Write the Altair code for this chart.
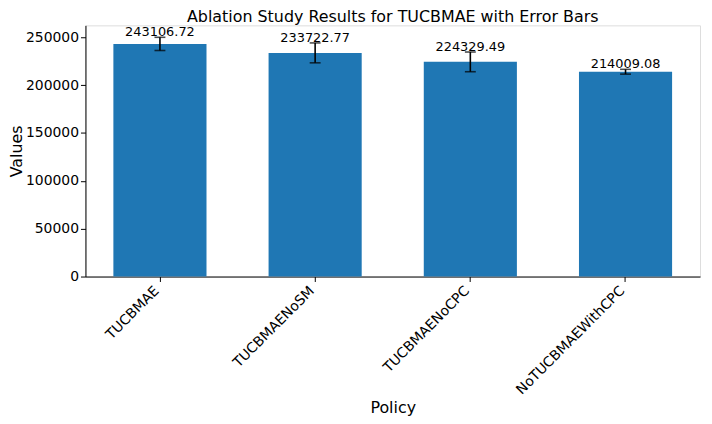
import altair as alt
import pandas as pd

policies = ["TUCBMAE", "TUCBMAENoSM", "TUCBMAENoCPC", "NoTUCBMAEWithCPC"]
values = [243106.72, 233722.77, 224329.49, 214009.08]
errors = [6900, 10400, 10300, 2500]
labels = ["243106.72", "233722.77", "224329.49", "214009.08"]
chart_title = "Ablation Study Results for TUCBMAE with Error Bars"

W, H = 619, 253

df = pd.DataFrame({
    "Policy": policies,
    "Value": values,
    "Err": errors,
    "Label": labels,
})
df["Low"] = df["Value"] - df["Err"]
df["High"] = df["Value"] + df["Err"]

FONT = "DejaVu Sans"

x = alt.X(
    "Policy:N",
    sort=policies,
    scale=alt.Scale(paddingInner=0.4, paddingOuter=0.18),
    axis=alt.Axis(
        title="Policy",
        labelAngle=-45,
        labelAlign="right",
        labelBaseline="top",
        labelFontSize=14,
        labelFont=FONT,
        labelColor="black",
        labelOffset=-8,
        labelPadding=2,
        titleFontSize=16,
        titleFont=FONT,
        titleFontWeight="normal",
        titleColor="black",
        titlePadding=3,
        tickColor="black",
        tickSize=5,
        domainColor="black",
    ),
)
yscale = alt.Scale(domain=[0, 262500], nice=False)
yaxis = alt.Axis(
    title="Values",
    values=[0, 50000, 100000, 150000, 200000, 250000],
    format="d",
    grid=False,
    labelFontSize=14,
    labelFont=FONT,
    labelColor="black",
    titleFontSize=16,
    titleFont=FONT,
    titleFontWeight="normal",
    titleColor="black",
    titlePadding=1,
    tickColor="black",
    tickSize=5,
    domainColor="black",
)

base = alt.Chart(df)

bars = base.mark_bar(color="#1f77b4").encode(
    x=x,
    y=alt.Y("Value:Q", scale=yscale, axis=yaxis),
)
rules = base.mark_rule(color="black", strokeWidth=1.6).encode(
    x=alt.X("Policy:N", sort=policies),
    y="Low:Q",
    y2="High:Q",
)
caps_low = base.mark_tick(color="black", size=11, thickness=1.6, orient="horizontal").encode(
    x=alt.X("Policy:N", sort=policies),
    y="Low:Q",
)
caps_high = base.mark_tick(color="black", size=11, thickness=1.6, orient="horizontal").encode(
    x=alt.X("Policy:N", sort=policies),
    y="High:Q",
)
text = base.mark_text(baseline="alphabetic", fontSize=13, font=FONT, color="black", dy=-1).encode(
    x=alt.X("Policy:N", sort=policies),
    y="High:Q",
    text="Label:N",
)
title_mark = alt.Chart(pd.DataFrame({"t": [chart_title]})).mark_text(
    baseline="alphabetic", align="center", fontSize=16, font=FONT, color="black"
).encode(
    x=alt.value(W / 2),
    y=alt.value(-3),
    text="t:N",
)

chart = (
    alt.layer(bars, rules, caps_low, caps_high, text, title_mark)
    .properties(
        width=W,
        height=H,
        autosize=alt.AutoSizeParams(type="none"),
        padding={"left": 78, "top": 16, "right": 4, "bottom": 139},
    )
    .configure_view(stroke="black", strokeWidth=1)
    .configure(background="white")
)

chart.save("out.html", embed_options={"renderer": "svg", "actions": False})
